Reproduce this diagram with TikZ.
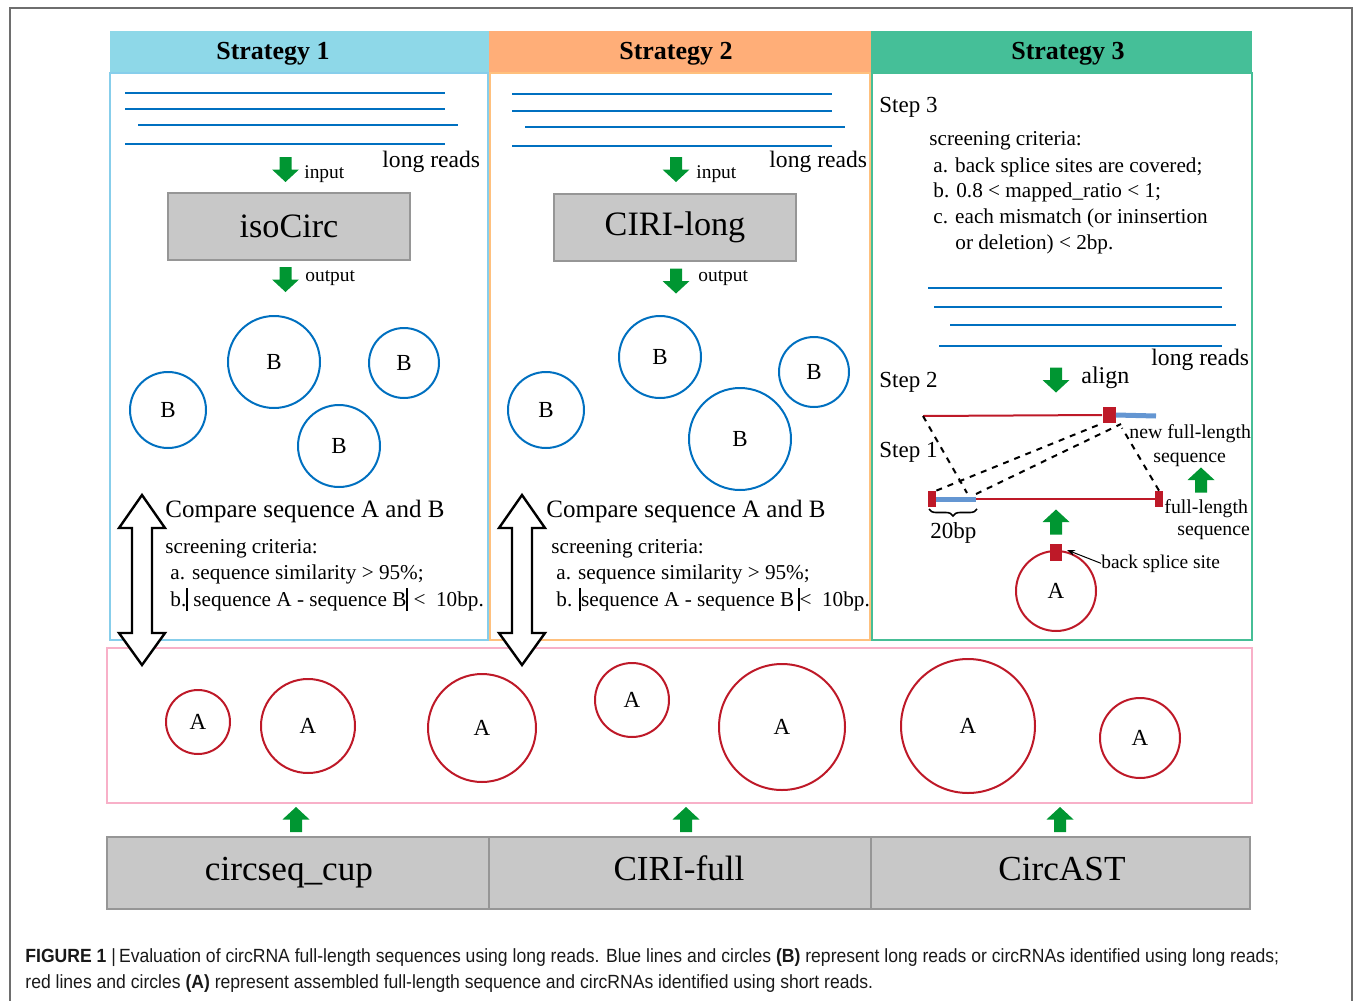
\documentclass[tikz,border=0pt]{standalone}
\usepackage{fontspec}
\setmainfont{Liberation Serif}
\newfontfamily\capfont[FakeStretch=0.92]{Liberation Sans}
\usetikzlibrary{arrows.meta,decorations.pathreplacing}

\definecolor{hdrblue}{RGB}{142,216,232}
\definecolor{hdrorange}{RGB}{255,174,120}
\definecolor{hdrgreen}{RGB}{69,191,152}
\definecolor{bdblue}{RGB}{135,206,235}
\definecolor{bdorange}{RGB}{255,192,125}
\definecolor{bdgreen}{RGB}{70,190,150}
\definecolor{bdpink}{RGB}{248,176,200}
\definecolor{toolgray}{RGB}{200,200,200}
\definecolor{tooledge}{RGB}{150,150,150}
\definecolor{readblue}{RGB}{0,112,192}
\definecolor{barblue}{RGB}{100,150,210}
\definecolor{circred}{RGB}{190,25,40}
\definecolor{arrgreen}{RGB}{0,150,50}
\definecolor{framegray}{RGB}{110,110,110}

\newcommand{\absbar}{\rule[-2.6pt]{0.9pt}{11.5pt}}

\tikzset{
  txt/.style={anchor=base west, inner sep=0pt},
  hdrtxt/.style={anchor=base, inner sep=0pt, font=\fontsize{13}{15}\selectfont\bfseries},
  crit/.style={txt, font=\fontsize{10.6}{12.7}\selectfont},
  tool/.style={draw=tooledge, fill=toolgray, line width=1pt, inner sep=0pt},
  circB/.style={draw=readblue, circle, line width=1pt, inner sep=0pt, font=\fontsize{11.5}{13}\selectfont},
  circA/.style={draw=circred, circle, line width=1pt, inner sep=0pt, font=\fontsize{11.5}{13}\selectfont},
  readline/.style={draw=readblue, line width=1pt},
  redsq/.style={fill=circred, inner sep=0pt},
  gdown/.pic={\fill[arrgreen] (-6,-12.5) -- (6,-12.5) -- (6,0) -- (13.5,0) -- (0,12.5) -- (-13.5,0) -- (-6,0) -- cycle;},
  gup/.pic={\fill[arrgreen] (-6,12.5) -- (6,12.5) -- (6,0) -- (13.5,0) -- (0,-12.5) -- (-13.5,0) -- (-6,0) -- cycle;},
  dblarrow/.pic={\draw[fill=white, line width=1.2pt, line join=miter] (0,-85) -- (23,-52) -- (10,-52) -- (10,53) -- (23,53) -- (0,85) -- (-23,53) -- (-10,53) -- (-10,-52) -- (-23,-52) -- cycle;}
}

\begin{document}
\begin{tikzpicture}[x=0.5pt, y=-0.5pt]
	\useasboundingbox (0,0) rectangle (1355,1001);
	
	% frame
	\draw[framegray, line width=1pt] (10,1001) -- (10,8) -- (1352,8) -- (1352,1001);
	
	% Strategy panels
	\fill[hdrblue] (110,31) rectangle (489,73);
	\fill[hdrorange] (489,31) rectangle (871,73);
	\fill[hdrgreen] (871,31) rectangle (1252,73);
	\draw[bdblue, line width=1pt] (110,73) rectangle (488,640);
	\draw[bdorange, line width=1pt] (490,73) rectangle (870,640);
	\draw[bdgreen, line width=1pt] (872,73) rectangle (1252,640);
	
	\node[hdrtxt] (h1) at (273,59) {Strategy 1};
	\node[hdrtxt] (h2) at (676,59) {Strategy 2};
	\node[hdrtxt] (h3) at (1068,59) {Strategy 3};
	
	% pink box and tools
	\draw[bdpink, line width=1pt] (107,648) rectangle (1252,803);
	\node[tool, minimum width=191pt, minimum height=36pt] (cup) at (298,873) {};
	\node[tool, minimum width=191pt, minimum height=36pt] (full) at (680,873) {};
	\node[tool, minimum width=189.5pt, minimum height=36pt] (ast) at (1060,873) {};
	\node[anchor=base, inner sep=0pt, font=\fontsize{17.6}{20}\selectfont] (cupt) at (289,880) {circseq\_cup};
	\node[anchor=base, inner sep=0pt, font=\fontsize{17.6}{20}\selectfont] (fullt) at (679,880) {CIRI-full};
	\node[anchor=base, inner sep=0pt, font=\fontsize{17.6}{20}\selectfont] (astt) at (1062,880) {CircAST};
	
	% Strategy 1
	\foreach \y/\a/\b in {93/125/445, 109/125/445, 125/138/458, 144/125/445}
		\draw[readline] (\a,\y) -- (\b,\y);
	\node[txt, font=\fontsize{11.8}{14}\selectfont] (lr1) at (382,167) {long reads};
	\pic (in1) at (285.5,169.5) {gdown};
	\node[txt, font=\fontsize{9.7}{11}\selectfont] (inp1) at (304,178) {input};
	\node[tool, minimum width=121pt, minimum height=33.5pt, font=\fontsize{17.1}{20}\selectfont] (iso) at (289,226.5) {isoCirc};
	\pic (out1) at (285.5,279.5) {gdown};
	\node[txt, font=\fontsize{9.7}{11}\selectfont] (outp1) at (305,281) {output};
	
	\node[circB, minimum size=38pt] (b11) at (168,410) {B};
	\node[circB, minimum size=46pt] (b12) at (274,362) {B};
	\node[circB, minimum size=35pt] (b13) at (404,363) {B};
	\node[circB, minimum size=41pt] (b14) at (339,446) {B};
	
	\pic (cmp1) at (142,580) {dblarrow};
	\node[txt, font=\fontsize{12.5}{15}\selectfont] (c1) at (165,517) {Compare sequence A and B};
	\node[crit] (s1) at (165,553) {screening criteria:};
	\node[crit] (s1a) at (170,579) {a. sequence similarity > 95\%;};
	\node[crit] (s1b) at (170,606) {b.\absbar\ sequence A - sequence B\absbar\ <\ \ 10bp.};
	
	% Strategy 2
	\foreach \y/\a/\b in {94/512/832, 111/512/832, 127/525/845, 145.5/512/832}
		\draw[readline] (\a,\y) -- (\b,\y);
	\node[txt, font=\fontsize{11.8}{14}\selectfont] (lr2) at (769,167) {long reads};
	\pic (in2) at (676,169.5) {gdown};
	\node[txt, font=\fontsize{9.7}{11}\selectfont] (inp2) at (696,178) {input};
	\node[tool, minimum width=121pt, minimum height=33.5pt, font=\fontsize{17.1}{20}\selectfont] (cirilong) at (675,227.5) {CIRI-long};
	\pic (out2) at (676,281) {gdown};
	\node[txt, font=\fontsize{9.7}{11}\selectfont] (outp2) at (698,281) {output};
	
	\node[circB, minimum size=38pt] (b21) at (546,410) {B};
	\node[circB, minimum size=41pt] (b22) at (660,357) {B};
	\node[circB, minimum size=35pt] (b23) at (814,372) {B};
	\node[circB, minimum size=51pt] (b24) at (740,439) {B};
	
	\pic (cmp2) at (522,580) {dblarrow};
	\node[txt, font=\fontsize{12.5}{15}\selectfont] (c2) at (546,517) {Compare sequence A and B};
	\node[crit] (s2) at (551,553) {screening criteria:};
	\node[crit] (s2a) at (556,579) {a. sequence similarity > 95\%;};
	\node[crit] (s2b) at (556,606) {b. \absbar sequence A - sequence B\,\absbar<\ \ 10bp.};
	
	% Strategy 3
	\node[txt, font=\fontsize{11.5}{14}\selectfont] (st3) at (879,112) {Step 3};
	\node[crit] (s3) at (929,145) {screening criteria:};
	\node[crit] (s3a) at (933,172) {a. back splice sites are covered;};
	\node[crit] (s3b) at (933,197) {b. 0.8 < mapped\_ratio < 1;};
	\node[crit] (s3c) at (933,223) {c. each mismatch (or ininsertion};
	\node[crit] (s3d) at (955,249) {or deletion) < 2bp.};
	
	\foreach \y/\a/\b in {288/928/1222, 307/934/1222, 325/950/1236, 346/939/1222}
		\draw[readline] (\a,\y) -- (\b,\y);
	\node[txt, font=\fontsize{11.8}{14}\selectfont] (lr3) at (1151,365) {long reads};
	\node[txt, font=\fontsize{11.5}{14}\selectfont] (st2) at (879,387) {Step 2};
	\pic (al) at (1056,380) {gdown};
	\node[txt, font=\fontsize{12}{14}\selectfont] (align) at (1081,383) {align};
	\node[txt, font=\fontsize{11.5}{14}\selectfont] (st1) at (879,457) {Step 1};
	
	% new full-length sequence
	\coordinate (nS) at (923,416);
	\node[redsq, minimum width=6.5pt, minimum height=8pt] (sqT) at (1109,415) {};
	\coordinate (nE) at (1156,416);
	\draw[circred, line width=1pt] (nS) -- (sqT.west);
	\draw[barblue, line width=2.5pt] (sqT.east) -- (nE);
	\node[txt, font=\fontsize{9.9}{12}\selectfont] (nfl) at (1129,438) {new full-length};
	\node[txt, font=\fontsize{9.9}{12}\selectfont] (nseq) at (1153,462) {sequence};
	\pic (up3b) at (1201,480) {gup};
	
	% full-length sequence
	\node[redsq, minimum width=4pt, minimum height=8pt] (sqL) at (932,499) {};
	\coordinate (bpE) at (976,499);
	\node[redsq, minimum width=4pt, minimum height=8pt] (sqR) at (1159,499) {};
	\draw[barblue, line width=2.5pt] (sqL.east) -- (bpE);
	\draw[circred, line width=1pt] (bpE) -- (sqR.west);
	\node[txt, font=\fontsize{9.9}{12}\selectfont] (fl) at (1164,513) {full-length};
	\node[txt, font=\fontsize{9.9}{12}\selectfont] (fseq) at (1177,535) {sequence};
	
	% mapping
	\draw[dashed, line width=1pt] (nS) -- (967,493);
	\draw[dashed, line width=1pt] (sqL.north east) -- (sqT.south west);
	\draw[dashed, line width=1pt] (bpE) ++(0,-5) -- (1121,424);
	\draw[dashed, line width=1pt] (sqR.north) -- (1122,428);
	
	\coordinate (brL) at (929,509);
	\coordinate (brR) at (977,509);
	\draw[decorate, decoration={brace, mirror, amplitude=3.5pt}, line width=0.8pt] (brL) -- (brR);
	\node[txt, font=\fontsize{11.5}{14}\selectfont] (bp) at (930,538) {20bp};
	
	\pic (up3a) at (1056,522) {gup};
	\node[circA, minimum size=40pt] (a3) at (1056,591) {A};
	\node[redsq, minimum width=6pt, minimum height=8.5pt] (sqA) at (1056,552.5) {};
	\node[txt, font=\fontsize{9.7}{11}\selectfont] (bss) at (1101,568) {back splice site};
	\draw[-{Stealth[length=4pt, width=3pt]}, line width=0.5pt] (bss.west) -- (1067,550);
	
	% assembled circRNAs
	\node[circA, minimum size=32pt] (a1) at (198,722) {A};
	\node[circA, minimum size=47pt] (a2) at (308,726) {A};
	\node[circA, minimum size=54pt] (a4) at (482,728) {A};
	\node[circA, minimum size=37pt] (a5) at (632,700) {A};
	\node[circA, minimum size=63pt] (a6) at (782,727) {A};
	\node[circA, minimum size=67pt] (a7) at (968,726) {A};
	\node[circA, minimum size=40pt] (a8) at (1140,738) {A};
	
	\pic (up1) at (296,819.5) {gup};
	\pic (up2) at (686,819.5) {gup};
	\pic (up3) at (1060,819.5) {gup};
	
	% caption
	\node[txt, font=\capfont\fontsize{9.55}{11}\selectfont, text=black!90] (cap1) at (25,962) {\textbf{FIGURE 1 }|\,Evaluation of circRNA full-length sequences using long reads. Blue lines and circles \textbf{(B)} represent long reads or circRNAs identified using long reads;};
	\node[txt, font=\capfont\fontsize{9.55}{11}\selectfont, text=black!90] (cap2) at (25,988) {red lines and circles \textbf{(A)} represent assembled full-length sequence and circRNAs identified using short reads.};
	
\end{tikzpicture}
\end{document}
